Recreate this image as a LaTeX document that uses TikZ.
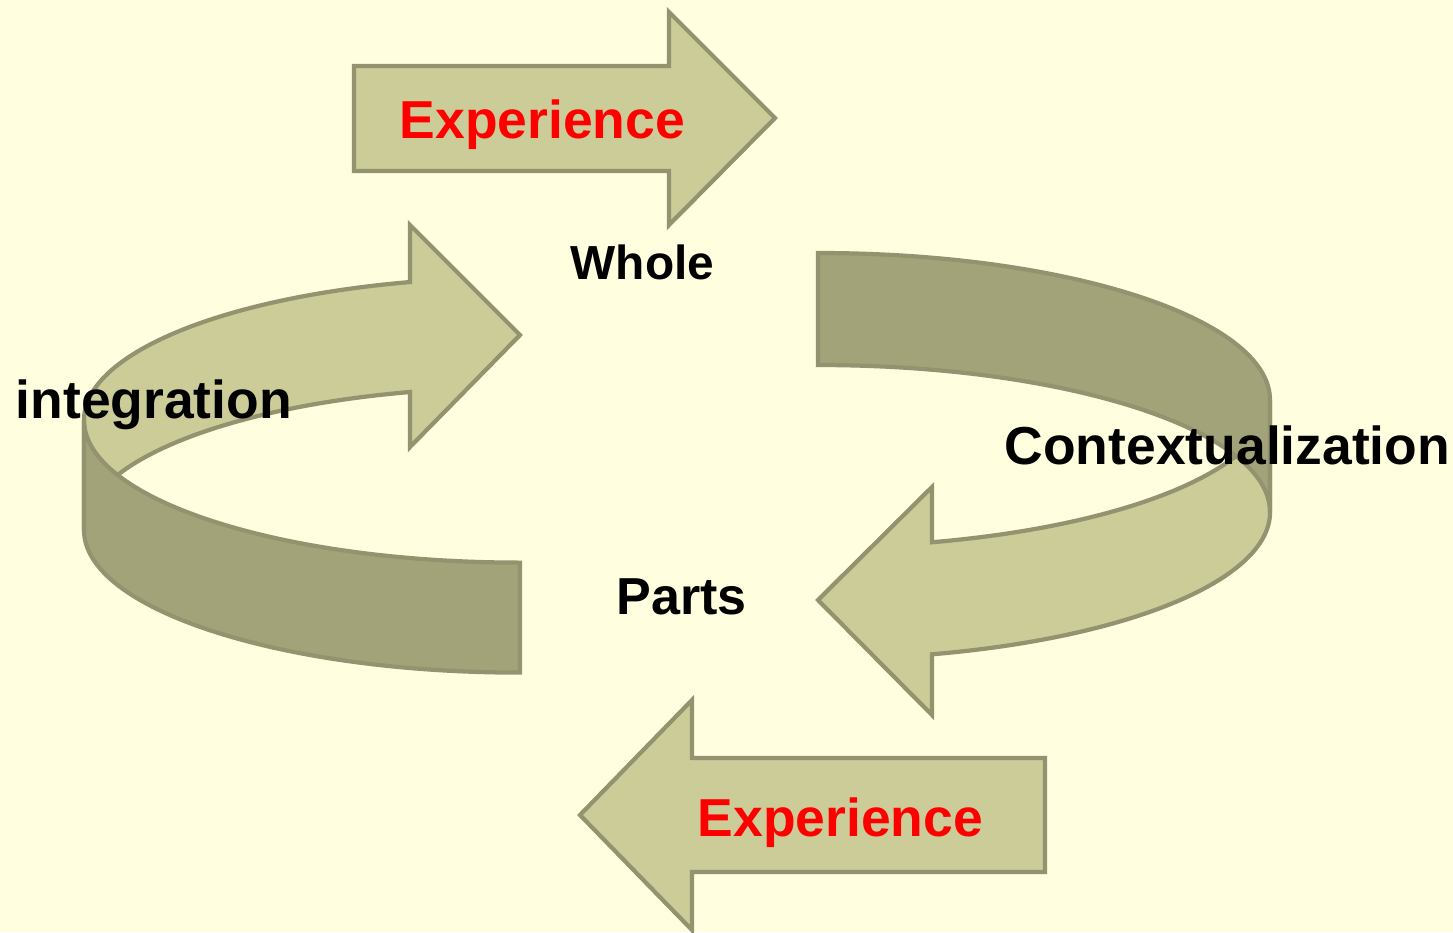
\documentclass[tikz,border=0pt]{standalone}
\usepackage{fontspec}
\setmainfont{Liberation Sans}
\usepackage{xcolor}
\definecolor{bgyellow}{RGB}{255,255,224}
\definecolor{olivelight}{RGB}{204,204,153}
\definecolor{olivedark}{RGB}{163,163,122}
\definecolor{oliveline}{RGB}{147,147,112}

\begin{document}
\begin{tikzpicture}[x=0.01cm,y=-0.01cm,
  light/.style={fill=olivelight, draw=oliveline, line width=1.2pt, line join=miter},
  dark/.style={fill=olivedark, draw=oliveline, line width=1.2pt},
  word/.style={font=\bfseries\fontsize{15.2}{18}\selectfont, inner sep=0pt, anchor=base west}]
\useasboundingbox (0,0) rectangle (1453,932);
\fill[bgyellow] (0,0) rectangle (1453,932);

\draw[light] (354,66) -- (669,66) -- (669,12) -- (775,118) -- (669,225) -- (669,171) -- (354,171) -- cycle; %top arrow
\draw[light] (1045,758) -- (692,758) -- (692,700) -- (580,815) -- (692,930) -- (692,872) -- (1045,872) -- cycle; %bottom arrow

%left ring: back face with head, then front face
\draw[light] (84,420) arc[start angle=180, end angle=255.4, x radius=436, y radius=142.6] -- (410,225) -- (520,335) -- (410,447) -- (410,392) arc[start angle=255.4, end angle=180, x radius=436, y radius=142.6] -- cycle;
\draw[dark] (84,420) arc[start angle=180, end angle=90, x radius=436, y radius=142.6] -- (520,672.6) arc[start angle=90, end angle=180, x radius=436, y radius=142.6] -- cycle;

%right ring: front face with head, then back face
\draw[light] (1270,400) arc[start angle=0, end angle=75.4, x radius=452, y radius=147] -- (932,487) -- (818,600) -- (932,715) -- (932,654.3) arc[start angle=75.4, end angle=0, x radius=452, y radius=147] -- cycle;
\draw[dark] (818,253) arc[start angle=-90, end angle=0, x radius=452, y radius=147] -- (1270,512) arc[start angle=0, end angle=-90, x radius=452, y radius=147] -- cycle;

\node[word, red] (expTop) at (399,138) {Experience};
\node[word, red] (expBottom) at (697,836) {Experience};
\node[word, font=\bfseries\fontsize{13.6}{16}\selectfont] (whole) at (570,279) {Whole};
\node[word, font=\bfseries\fontsize{14.8}{17}\selectfont] (parts) at (616,614) {Parts};
\node[word] (integ) at (15,418) {integration};
\node[word] (context) at (1004,464) {Contextualization};
\end{tikzpicture}
\end{document}
